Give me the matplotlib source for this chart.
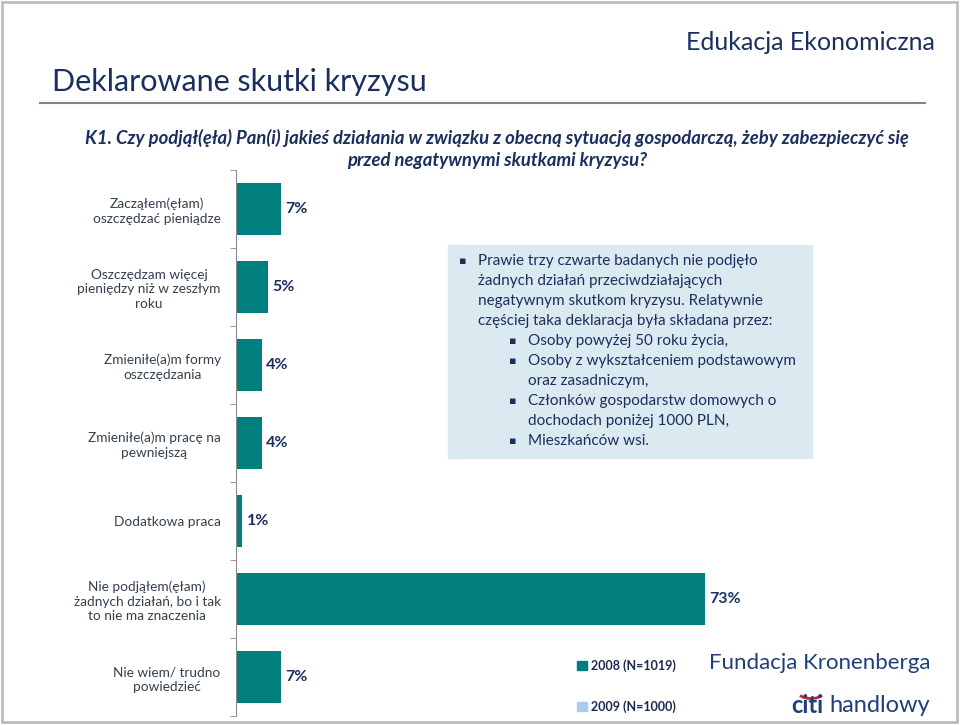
import matplotlib
matplotlib.use("Agg")
import matplotlib.pyplot as plt
import matplotlib.transforms as mtrans
from matplotlib.patches import Rectangle, Patch, Arc
import numpy as np

plt.rcParams['font.family'] = ['Lato', 'DejaVu Sans']

# data
categories = [
    "Zacząłem(ęłam)\noszczędzać pieniądze",
    "Oszczędzam więcej\npieniędzy niż w zeszłym\nroku",
    "Zmieniłe(a)m formy\noszczędzania",
    "Zmieniłe(a)m pracę na\npewniejszą",
    "Dodatkowa praca",
    "Nie podjąłem(ęłam)\nżadnych działań, bo i tak\nto nie ma znaczenia",
    "Nie wiem/ trudno\npowiedzieć",
]
values_2008 = [7, 5, 4, 4, 1, 73, 7]
series_names = ["2008 (N=1019)", "2009 (N=1000)"]

box_lines = [
    (0, "Prawie trzy czwarte badanych nie podjęło"),
    (None, "żadnych działań przeciwdziałających"),
    (None, "negatywnym skutkom kryzysu. Relatywnie"),
    (None, "częściej taka deklaracja była składana przez:"),
    (1, "Osoby powyżej 50 roku życia,"),
    (1, "Osoby z wykształceniem podstawowym"),
    (2, "oraz zasadniczym,"),
    (1, "Członków gospodarstw domowych o"),
    (2, "dochodach poniżej 1000 PLN,"),
    (1, "Mieszkańców wsi."),
]

teal = '#007f7f'
light_blue = '#a8cdef'
navy = '#1b2f5e'
label_col = '#34404f'

W, H = 960, 725
fig = plt.figure(figsize=(9.6, 7.25), dpi=100)
# pixel coordinates with origin at the top left
pix = mtrans.Affine2D().scale(1 / W, -1 / H).translate(0, 1) + fig.transFigure

# slide frame
fig.patches.append(Rectangle((2, 2), W - 5, H - 5, transform=pix, fill=False,
                             ec='#bdbdbd', lw=2))

fig.text(935, 42, "Edukacja Ekonomiczna", transform=pix, ha='right', va='center',
         fontsize=18, color=navy)
fig.text(52, 82, "Deklarowane skutki kryzysu", transform=pix, ha='left', va='center',
         fontsize=22, color=navy)
fig.lines.append(plt.Line2D([40, 925], [103, 103], transform=pix, color='#7f8590', lw=1.5))
fig.text(497, 149, "K1. Czy podjął(ęła) Pan(i) jakieś działania w związku z obecną sytuacją gospodarczą, żeby zabezpieczyć się\nprzed negatywnymi skutkami kryzysu?",
         transform=pix, ha='center', va='center', fontsize=13.3, fontweight='bold',
         fontstyle='italic', color=navy, linespacing=1.3)

# bar chart
left, right = 236, 236 + 6.43 * 80
top, bottom = 170, 716
ax = fig.add_axes([left / W, 1 - bottom / H, (right - left) / W, (bottom - top) / H])
y = np.arange(len(categories))
ax.barh(y, values_2008, height=0.66, color=teal)
ax.set_xlim(0, 80)
ax.set_ylim(len(categories) - 0.5, -0.5)
for s in ['top', 'right', 'bottom']:
    ax.spines[s].set_visible(False)
ax.spines['left'].set_color('#8c8c8c')
ax.set_xticks([])
ax.set_yticks(y)
ax.set_yticklabels(categories, fontsize=9.8, color=label_col, ha='right',
                   linespacing=1.25)
for t in ax.get_yticklabels():
    t.set_multialignment('center')
ax.tick_params(axis='y', which='major', length=0, pad=11)
ax.set_yticks(np.arange(len(categories) + 1) - 0.5, minor=True)
ax.tick_params(axis='y', which='minor', length=4, color='#8c8c8c')
ax.patch.set_alpha(0)
for yi, v in zip(y, values_2008):
    ax.annotate(f"{v}%", (v, yi), xytext=(3, 0), textcoords='offset points',
                va='center', ha='left', fontsize=11.5, fontweight='bold', color=navy)

# comment box
fig.patches.append(Rectangle((448, 245), 364, 213, transform=pix, color='#dbe9f1', zorder=0))
for i, (lvl, txt) in enumerate(box_lines):
    yy = 261 + i * 20
    xt = 478 if lvl in (0, None) else 528
    if lvl == 0:
        fig.text(463, yy, "▪", transform=pix, ha='center', va='center', fontsize=8,
                 color=navy, family='DejaVu Sans')
    elif lvl == 1:
        fig.text(513, yy, "▪", transform=pix, ha='center', va='center', fontsize=8,
                 color=navy, family='DejaVu Sans')
    fig.text(xt, yy, txt, transform=pix, ha='left', va='center', fontsize=11, color=navy)

# legend
handles = [Patch(color=teal), Patch(color=light_blue)]
leg = fig.legend(handles, series_names, loc='upper left',
                 bbox_to_anchor=(566 / W, 1 - 648 / H), frameon=False,
                 prop={'weight': 'bold', 'size': 9}, handlelength=0.75,
                 handleheight=0.75, handletextpad=0.35, labelspacing=2.25)
for t in leg.get_texts():
    t.set_color('#1a2a50')

# logos
fig.text(820, 663, "Fundacja Kronenberga", transform=pix, ha='center', va='center',
         fontsize=16, color='#1f3f7a')
fig.text(823, 706, "citi", transform=pix, ha='right', va='center', fontsize=17,
         fontweight='bold', color='#1f3f7a')
fig.text(829, 706, "handlowy", transform=pix, ha='left', va='center', fontsize=17,
         color='#1f3f7a')
fig.patches.append(Arc((811, 693), 24, 11, theta1=12, theta2=168, transform=pix,
                       color='#d2232a', lw=2))

fig.savefig("out.png", dpi=100)
